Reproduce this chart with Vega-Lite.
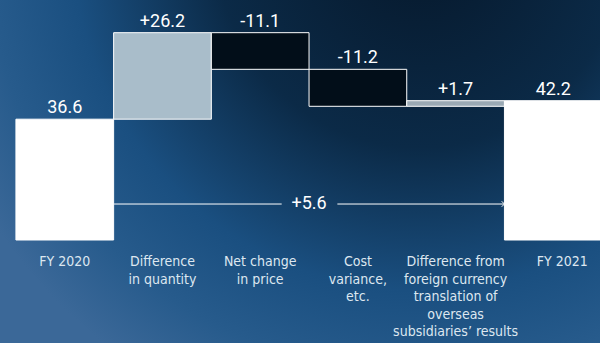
{
  "$schema": "https://vega.github.io/schema/vega-lite/v6.json",
  "width": 603,
  "height": 343,
  "autosize": {"type": "fit", "contains": "padding"},
  "padding": 0,
  "config": {
    "view": {
      "stroke": null,
      "fill": {
        "gradient": "radial",
        "x1": 0.7, "y1": 0.12, "r1": 0,
        "x2": 0.7, "y2": 0.12, "r2": 0.85,
        "stops": [
          {"offset": 0, "color": "#06182b"},
          {"offset": 0.4, "color": "#0b2a47"},
          {"offset": 0.68, "color": "#1a4f80"},
          {"offset": 0.85, "color": "#275b8c"},
          {"offset": 1, "color": "#3b6898"}
        ]
      }
    }
  },
  "datasets": {
    "steps": [
      {"i": 0, "category": "FY 2020", "start": 0, "end": 36.6, "label": "36.6", "kind": "total"},
      {"i": 1, "category": "Difference\nin quantity", "start": 36.6, "end": 62.8, "label": "+26.2", "kind": "up"},
      {"i": 2, "category": "Net change\nin price", "start": 62.8, "end": 51.7, "label": "-11.1", "kind": "down"},
      {"i": 3, "category": "Cost\nvariance,\netc.", "start": 51.7, "end": 40.5, "label": "-11.2", "kind": "down"},
      {"i": 4, "category": "Difference from\nforeign currency\ntranslation of\noverseas\nsubsidiaries’ results", "start": 40.5, "end": 42.2, "label": "+1.7", "kind": "fx"},
      {"i": 5, "category": "FY 2021", "start": 0, "end": 42.2, "label": "42.2", "kind": "total"}
    ],
    "arrow": [
      {"a": 1.0, "b": 2.72},
      {"a": 3.29, "b": 5.0}
    ]
  },
  "layer": [
    {
      "data": {"name": "steps"},
      "transform": [{"calculate": "datum.i + 1", "as": "i1"}],
      "mark": {"type": "bar", "stroke": "white", "strokeWidth": 1},
      "encoding": {
        "x": {"field": "i", "type": "quantitative", "scale": {"domain": [-0.163, 5.978], "nice": false, "zero": false}, "axis": null},
        "x2": {"field": "i1"},
        "y": {"field": "start", "type": "quantitative", "scale": {"domain": [-31.2, 72.7], "nice": false, "zero": false}, "axis": null},
        "y2": {"field": "end"},
        "color": {
          "field": "kind", "type": "nominal", "legend": null,
          "scale": {"domain": ["total", "up", "down", "fx"], "range": ["#ffffff", "#a9bdca", "#020e19", "#9aa9b4"]}
        }
      }
    },
    {
      "data": {"name": "steps"},
      "transform": [
        {"calculate": "datum.i + 0.5", "as": "c"},
        {"calculate": "max(datum.start, datum.end)", "as": "top"}
      ],
      "mark": {"type": "text", "font": "Roboto", "fontSize": 18, "color": "#ffffff", "baseline": "alphabetic", "align": "center", "dy": -6},
      "encoding": {
        "x": {"field": "c", "type": "quantitative"},
        "y": {"field": "top", "type": "quantitative"},
        "text": {"field": "label"}
      }
    },
    {
      "data": {"name": "steps"},
      "transform": [
        {"filter": "datum.i < 5"},
        {"calculate": "datum.i + 0.5", "as": "c"}
      ],
      "mark": {"type": "text", "font": "DejaVu Sans Condensed, DejaVu Sans, sans-serif", "fontSize": 14, "lineHeight": 17.5, "lineBreak": "\n", "color": "#dde7f0", "baseline": "top", "align": "center"},
      "encoding": {
        "x": {"field": "c", "type": "quantitative"},
        "y": {"datum": -4.6},
        "text": {"field": "category"}
      }
    },
    {
      "data": {"name": "steps"},
      "transform": [
        {"filter": "datum.i == 5"},
        {"calculate": "datum.i + 0.5", "as": "c"}
      ],
      "mark": {"type": "text", "font": "DejaVu Sans Condensed, DejaVu Sans, sans-serif", "fontSize": 14, "lineHeight": 17.5, "lineBreak": "\n", "color": "#dde7f0", "baseline": "top", "align": "center", "dx": 9},
      "encoding": {
        "x": {"field": "c", "type": "quantitative"},
        "y": {"datum": -4.6},
        "text": {"field": "category"}
      }
    },
    {
      "data": {"name": "arrow"},
      "mark": {"type": "rule", "color": "#ffffff", "strokeWidth": 1},
      "encoding": {
        "x": {"field": "a", "type": "quantitative"},
        "x2": {"field": "b"},
        "y": {"datum": 10.9}
      }
    },
    {
      "data": {"values": [{"x": 5.0, "y": 10.9}]},
      "mark": {"type": "point", "shape": "M-1,-1L0,0L-1,1", "filled": false, "stroke": "#ffffff", "strokeWidth": 1, "size": 30, "opacity": 1},
      "encoding": {
        "x": {"field": "x", "type": "quantitative"},
        "y": {"field": "y", "type": "quantitative"}
      }
    },
    {
      "data": {"values": [{"x": 3.0, "y": 10.9, "t": "+5.6"}]},
      "mark": {"type": "text", "font": "Roboto", "fontSize": 18, "color": "#ffffff", "baseline": "middle", "align": "center"},
      "encoding": {
        "x": {"field": "x", "type": "quantitative"},
        "y": {"field": "y", "type": "quantitative"},
        "text": {"field": "t"}
      }
    }
  ]
}
